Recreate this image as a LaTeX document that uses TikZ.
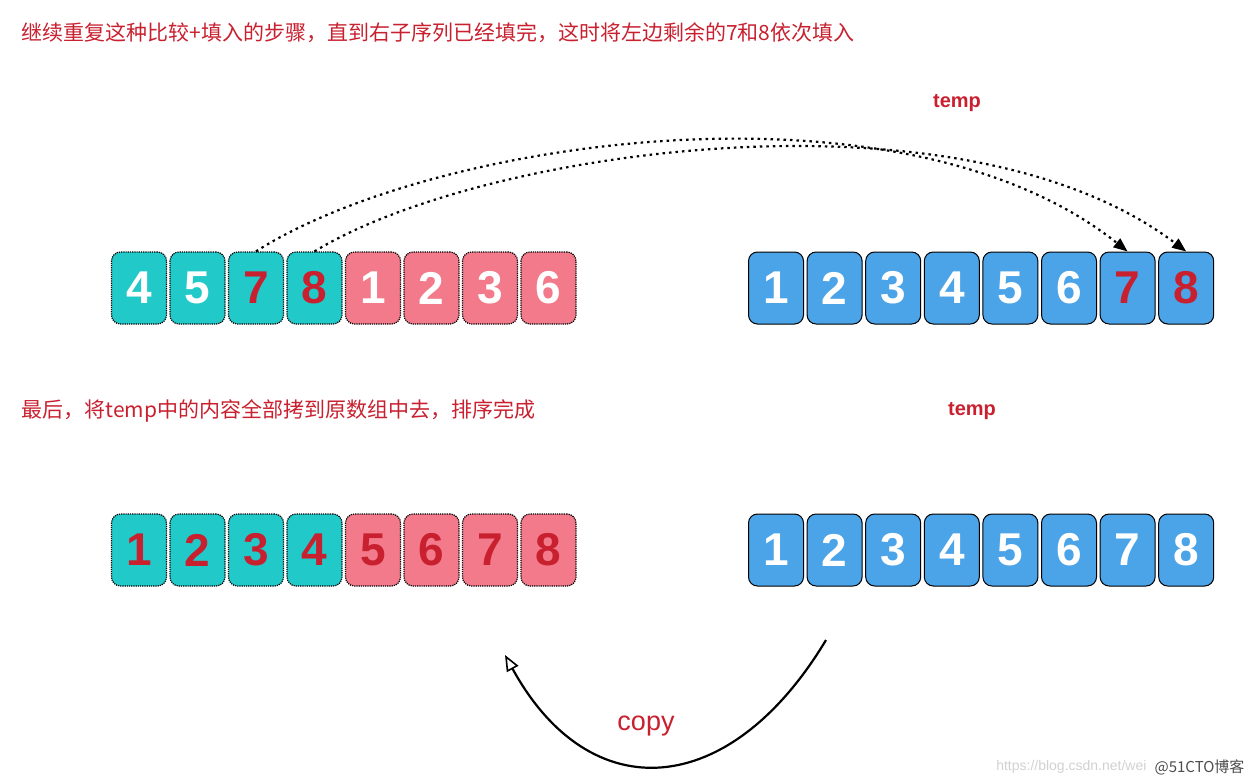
\documentclass[tikz,border=0pt]{standalone}
\usepackage{fontspec}
\setmainfont{Liberation Sans}
\newfontfamily\cjk{Noto Sans CJK SC}
\usetikzlibrary{arrows.meta}
\definecolor{teal}{HTML}{22C9C9}
\definecolor{pinkc}{HTML}{F27A8A}
\definecolor{bluec}{HTML}{4BA3E8}
\definecolor{redc}{HTML}{C8202F}
\tikzset{
 cell/.style={minimum width=55pt,minimum height=72pt,rounded corners=9pt,inner sep=0pt,
   font=\fontsize{46}{46}\selectfont\bfseries},
 tcell/.style={cell,fill=teal,draw=black,densely dotted,line width=1.2pt},
 pcell/.style={cell,fill=pinkc,draw=black,densely dotted,line width=1.2pt},
 bcell/.style={cell,fill=bluec,draw=black,line width=1pt},
 note/.style={font=\cjk\fontsize{21}{21}\selectfont,text=redc,anchor=west},
 lbl/.style={font=\fontsize{20}{20}\selectfont\bfseries,text=redc},
 dotarc/.style={line width=2.2pt,dash pattern=on 2.5pt off 4pt,-{Triangle[length=14pt,width=11pt]}}
}
\begin{document}
\begin{tikzpicture}[x=1pt,y=-1pt]
\useasboundingbox (0,0) rectangle (1256,784);
\node[note] (t1) at (18,33) {继续重复这种比较+填入的步骤，直到右子序列已经填完，这时将左边剩余的7和8依次填入};
\node[note] (t2) at (18,411) {最后，将temp中的内容全部拷到原数组中去，排序完成};
\node[lbl] (temp1) at (957,103) {temp};
\node[lbl] (temp2) at (972,411) {temp};
% row 1 left
\foreach \v/\c/\s [count=\i from 0] in {4/white/tcell,5/white/tcell,7/redc/tcell,8/redc/tcell,1/white/pcell,2/white/pcell,3/white/pcell,6/white/pcell}
  \node[\s,text=\c] (a\i) at (139+58.5*\i,288) {\v};
\foreach \v/\c [count=\i from 0] in {1/white,2/white,3/white,4/white,5/white,6/white,7/redc,8/redc}
  \node[bcell,text=\c] (b\i) at (776+58.6*\i,288) {\v};
\foreach \v/\s [count=\i from 0] in {1/tcell,2/tcell,3/tcell,4/tcell,5/pcell,6/pcell,7/pcell,8/pcell}
  \node[\s,text=redc] (c\i) at (139+58.5*\i,550) {\v};
\foreach \v [count=\i from 0] in {1,...,8}
  \node[bcell,text=white] (d\i) at (776+58.6*\i,550) {\v};
\draw[dotarc] (a2.north) .. controls (430,140) and (900,70) .. (b6.north);
\draw[dotarc] (a3.north) .. controls (480,150) and (960,80) .. (b7.north);
\coordinate (cs) at (826,640);
\coordinate (ce) at (505,655);
\draw[line width=2.2pt,-{Triangle[open,length=16pt,width=13pt,line width=1.6pt]}] (cs) .. controls (730,800) and (590,810) .. (ce);
\node[font=\fontsize{27}{27}\selectfont,text=redc] (copy) at (646,726) {copy};
\node[font=\fontsize{14}{14}\selectfont,text=black!18,anchor=east] (wm1) at (1150,767) {https://blog.csdn.net/wei};
\node[font=\cjk\fontsize{15}{15}\selectfont,text=black!70,anchor=east] (wm2) at (1248,767) {@51CTO博客};
\end{tikzpicture}
\end{document}
